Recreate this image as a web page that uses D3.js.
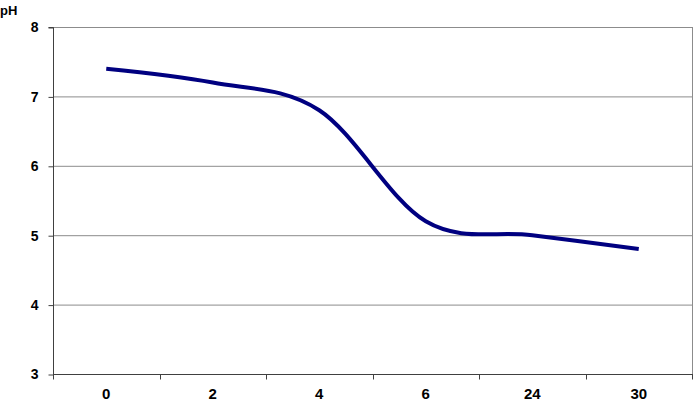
<!DOCTYPE html>
<html><head><meta charset="utf-8">
<script src="https://cdn.jsdelivr.net/npm/d3@7"></script>
<style>body{margin:0;background:#fff}svg{display:block}text{font-family:"Liberation Sans",Arial,sans-serif;font-weight:bold}</style>
</head><body>
<svg id="c" width="693" height="402"></svg>
<script>
const categories = ["0","2","4","6","24","30"];
const phValues = [7.4, 7.2, 6.8, 5.2, 5.0, 4.8];
const yTicks = [3,4,5,6,7,8];

const svg = d3.select("#c");
const L=53, R=692, T=27, B=374;
const x = d3.scaleBand().domain(categories).range([L,R]);
const y = d3.scaleLinear().domain([3,8]).range([B,T]);

// gridlines
svg.append("g").selectAll("line").data(yTicks.filter(d=>d>3)).join("line")
  .attr("x1",L).attr("x2",R).attr("y1",d=>y(d)+0.5).attr("y2",d=>y(d)+0.5)
  .attr("stroke","#8c8c8c").attr("stroke-width",1);
// right border
svg.append("line").attr("x1",R+0.5).attr("x2",R+0.5).attr("y1",T).attr("y2",B).attr("stroke","#8c8c8c");

// y axis
const ya = svg.append("g").attr("transform",`translate(${L+0.5},0.5)`)
  .call(d3.axisLeft(y).tickValues(yTicks).tickSize(5).tickPadding(10).tickFormat(d3.format("d")));
ya.select(".domain").attr("stroke","#404040").attr("d",`M-5,${T}H0V${B}`);
ya.selectAll(".tick line").attr("stroke","#404040");
ya.selectAll(".tick text").attr("font-size",14).attr("fill","#000").attr("font-family","Liberation Sans, Arial, sans-serif").attr("font-weight","bold");

// x axis
const xb = svg.append("g").attr("transform",`translate(0,${B+0.5})`);
xb.append("line").attr("x1",L).attr("x2",R+1).attr("y1",0).attr("y2",0).attr("stroke","#404040");
const bounds = categories.map(c=>x(c)).concat([R]);
xb.selectAll("line.t").data(bounds).join("line").attr("class","t")
  .attr("x1",d=>Math.round(d)+0.5).attr("x2",d=>Math.round(d)+0.5).attr("y1",0).attr("y2",5).attr("stroke","#404040");
xb.selectAll("text").data(categories).join("text")
  .attr("x",d=>x(d)+x.bandwidth()/2).attr("y",24).attr("text-anchor","middle")
  .style("font-size","15px").attr("fill","#000").text(d=>d);

// line
const line = d3.line().x((d,i)=>x(categories[i])+x.bandwidth()/2).y(d=>y(d)).curve(d3.curveCardinal.tension(0));
svg.append("path").datum(phValues).attr("d",line).attr("fill","none")
  .attr("stroke","#000080").attr("stroke-width",4).attr("stroke-linecap","butt");

// pH label
svg.append("text").attr("x",0).attr("y",15).attr("font-size",13).attr("fill","#000").text("pH");
</script>
</body></html>
